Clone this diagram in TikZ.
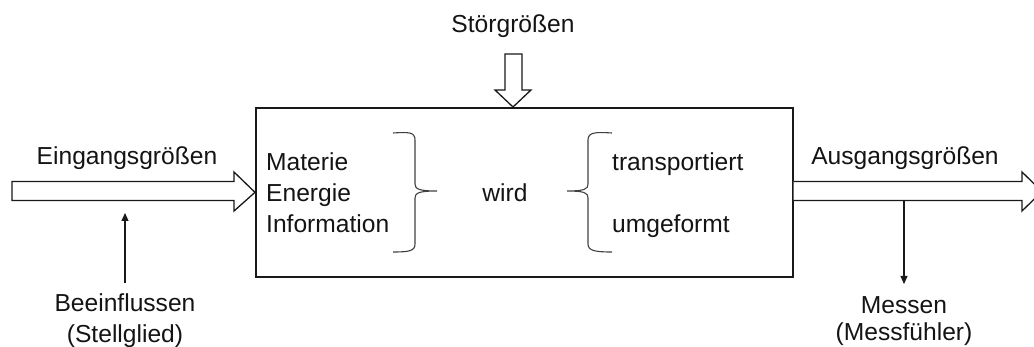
\documentclass[tikz,border=0pt]{standalone}
\usepackage{fontspec}
\setmainfont{Liberation Sans}
\usetikzlibrary{arrows.meta}
\begin{document}
\begin{tikzpicture}[x=1pt,y=-1pt,
  lbl/.style={inner sep=0pt, font=\fontsize{24.6}{30}\selectfont, text=black!92},
  blockarrow/.style={draw=black!90, line width=1.3pt, fill=white, line join=miter},
  thinarrow/.style={draw=black!90, line width=1.1pt, -{Triangle[length=8pt,width=7pt]}},
  brace/.style={draw=black!75, line width=1.1pt},
  sysbox/.style={draw=black!90, line width=1.7pt, inner sep=0pt, minimum width=537pt, minimum height=169pt, anchor=north west}]
\useasboundingbox (0,0) rectangle (1034,347);

% main box
\node[sysbox] (sys) at (255,107) {};

% input block arrow
\draw[blockarrow] (12,181.5) -- (234,181.5) -- (234,172) -- (sys.west) -- (234,211) -- (234,200.5) -- (12,200.5) -- cycle;
% output block arrow
\draw[blockarrow] (sys.east |- 0,181.5) -- (1022,181.5) -- (1022,172) -- (1042,191.5) -- (1022,211) -- (1022,200.5) -- (sys.east |- 0,200.5);
% disturbance block arrow
\draw[blockarrow] (505,54) -- (522,54) -- (522,90) -- (531,90) -- (513,107) -- (495,90) -- (505,90) -- cycle;

% labels
\node[lbl, anchor=base] (stoer) at (513,33) {Störgrößen};
\node[lbl, anchor=base] (ein) at (127,165) {Eingangsgrößen};
\node[lbl, anchor=base] (aus) at (905,165) {Ausgangsgrößen};
\node[lbl, anchor=base] (bein) at (125,312) {Beeinflussen};
\node[lbl, anchor=base] (stell) at (125,343) {(Stellglied)};
\node[lbl, anchor=base] (mess) at (904,314) {Messen};
\node[lbl, anchor=base] (fuehl) at (904,341) {(Messfühler)};

% box contents
\node[lbl, anchor=base west] (mat) at (266,171) {Materie};
\node[lbl, anchor=base west] (ener) at (266,202) {Energie};
\node[lbl, anchor=base west] (info) at (266,233) {Information};
\node[lbl, anchor=base] (wird) at (505,201.5) {wird};
\node[lbl, anchor=base west] (trans) at (612,171) {transportiert};
\node[lbl, anchor=base west] (umg) at (612,233) {umgeformt};

% braces
\draw[brace] (393,133) .. controls (409,132) and (415,132) .. (415,140) -- (415,184)
  .. controls (415,189) and (419,191) .. (437,191)
  .. controls (419,191) and (415,193) .. (415,198) -- (415,244)
  .. controls (415,251) and (409,252) .. (393,252);
\draw[brace] (612,133) .. controls (596,132) and (588,132) .. (588,140) -- (588,184)
  .. controls (588,189) and (585,191) .. (567,191)
  .. controls (585,191) and (588,193) .. (588,198) -- (588,244)
  .. controls (588,251) and (596,252) .. (612,252);

% thin arrows
\coordinate (inStart) at (125,283);
\coordinate (inTip) at (125,213);
\draw[thinarrow] (inStart) -- (inTip);
\coordinate (outTap) at (904,200.5);
\coordinate (outTip) at (904,284);
\draw[thinarrow] (outTap) -- (outTip);
\end{tikzpicture}
\end{document}
